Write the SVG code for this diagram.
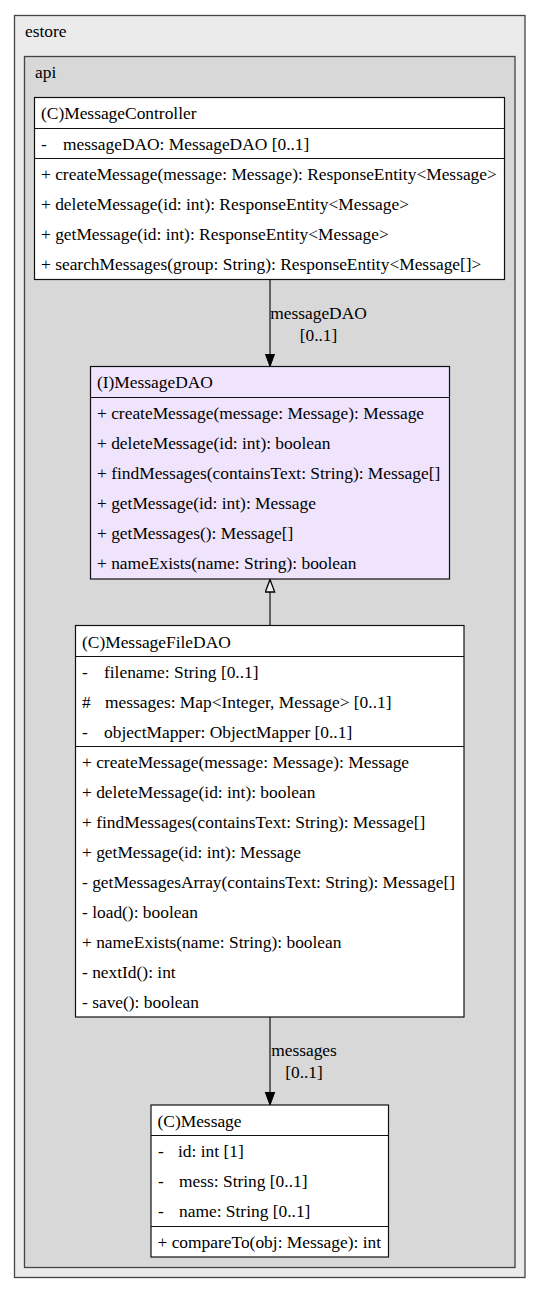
<svg xmlns="http://www.w3.org/2000/svg" width="540" height="1293" viewBox="0 0 540 1293">
<style>
text{font-family:"Liberation Serif","Times New Roman",serif;font-size:17.4px;fill:#000}
.box{fill:#fff;stroke:#111;stroke-width:1.2}
.iface{fill:#f0e3fc;stroke:#111;stroke-width:1.2}
.sep{stroke:#111;stroke-width:1.2}
.edge{stroke:#444;stroke-width:1.6;fill:none}
.mid{text-anchor:middle}
</style>
<defs>
<marker id="filled" markerWidth="14" markerHeight="12" refX="13" refY="5.5" orient="auto" markerUnits="userSpaceOnUse">
<path d="M0,0.7 L13,5.5 L0,10.3 Z" fill="#000" stroke="#000" stroke-width="1"/>
</marker>
<marker id="hollow" markerWidth="15" markerHeight="12" refX="13" refY="5.5" orient="auto" markerUnits="userSpaceOnUse">
<path d="M0.5,0.8 L13,5.5 L0.5,10.2 Z" fill="#eeeeee" stroke="#000" stroke-width="1.3"/>
</marker>
</defs>
<g id="cluster_estore">
<rect x="14.5" y="15.5" width="510.5" height="1262" fill="#ebebeb" stroke="#444" stroke-width="1.3"/>
<text x="25" y="37">estore</text>
</g>
<g id="cluster_api">
<rect x="24.5" y="56.5" width="490.5" height="1211" fill="#d8d8d8" stroke="#444" stroke-width="1.3"/>
<text x="35" y="78">api</text>
</g>
<g id="connectors">
<line class="edge" x1="270" y1="280" x2="270" y2="366.5" marker-end="url(#filled)"/>
<text class="mid" x="318.5" y="319">messageDAO</text>
<text class="mid" x="318.5" y="341">[0..1]</text>
<line class="edge" x1="270" y1="625.5" x2="270" y2="579.5" marker-end="url(#hollow)"/>
<line class="edge" x1="270" y1="1017" x2="270" y2="1105" marker-end="url(#filled)"/>
<text class="mid" x="304" y="1056">messages</text>
<text class="mid" x="304" y="1078">[0..1]</text>
</g>
<g id="MessageController">
<rect class="box" x="34.5" y="97.5" width="470" height="182"/>
<line class="sep" x1="34.5" y1="128.5" x2="504.5" y2="128.5"/>
<line class="sep" x1="34.5" y1="158.5" x2="504.5" y2="158.5"/>
<text x="41" y="119">(C)MessageController</text>
<text x="41" y="150">-</text>
<text x="63" y="150">messageDAO: MessageDAO [0..1]</text>
<text x="41" y="180">+ createMessage(message: Message): ResponseEntity&lt;Message&gt;</text>
<text x="41" y="210">+ deleteMessage(id: int): ResponseEntity&lt;Message&gt;</text>
<text x="41" y="240">+ getMessage(id: int): ResponseEntity&lt;Message&gt;</text>
<text x="41" y="270">+ searchMessages(group: String): ResponseEntity&lt;Message[]&gt;</text>
</g>
<g id="MessageDAO">
<rect class="iface" x="90.5" y="366.5" width="359" height="212.5"/>
<line class="sep" x1="90.5" y1="397.5" x2="449.5" y2="397.5"/>
<text x="97" y="388">(I)MessageDAO</text>
<text x="97" y="419">+ createMessage(message: Message): Message</text>
<text x="97" y="449">+ deleteMessage(id: int): boolean</text>
<text x="97" y="479">+ findMessages(containsText: String): Message[]</text>
<text x="97" y="509">+ getMessage(id: int): Message</text>
<text x="97" y="539">+ getMessages(): Message[]</text>
<text x="97" y="569">+ nameExists(name: String): boolean</text>
</g>
<g id="MessageFileDAO">
<rect class="box" x="75.5" y="625.5" width="388.5" height="391.5"/>
<line class="sep" x1="75.5" y1="656.5" x2="464" y2="656.5"/>
<line class="sep" x1="75.5" y1="746.5" x2="464" y2="746.5"/>
<text x="82" y="648">(C)MessageFileDAO</text>
<text x="82" y="678">-</text>
<text x="104" y="678">filename: String [0..1]</text>
<text x="82" y="708">#</text>
<text x="105" y="708">messages: Map&lt;Integer, Message&gt; [0..1]</text>
<text x="82" y="738">-</text>
<text x="104" y="738">objectMapper: ObjectMapper [0..1]</text>
<text x="82" y="768">+ createMessage(message: Message): Message</text>
<text x="82" y="798">+ deleteMessage(id: int): boolean</text>
<text x="82" y="828">+ findMessages(containsText: String): Message[]</text>
<text x="82" y="858">+ getMessage(id: int): Message</text>
<text x="82" y="888">- getMessagesArray(containsText: String): Message[]</text>
<text x="82" y="918">- load(): boolean</text>
<text x="82" y="948">+ nameExists(name: String): boolean</text>
<text x="82" y="978">- nextId(): int</text>
<text x="82" y="1008">- save(): boolean</text>
</g>
<g id="Message">
<rect class="box" x="151" y="1105" width="237.5" height="152"/>
<line class="sep" x1="151" y1="1135.5" x2="388.5" y2="1135.5"/>
<line class="sep" x1="151" y1="1226.5" x2="388.5" y2="1226.5"/>
<text x="157.5" y="1127">(C)Message</text>
<text x="158" y="1157">-</text>
<text x="178" y="1157">id: int [1]</text>
<text x="158" y="1187">-</text>
<text x="179" y="1187">mess: String [0..1]</text>
<text x="158" y="1217">-</text>
<text x="179" y="1217">name: String [0..1]</text>
<text x="157.5" y="1248">+ compareTo(obj: Message): int</text>
</g>
</svg>
